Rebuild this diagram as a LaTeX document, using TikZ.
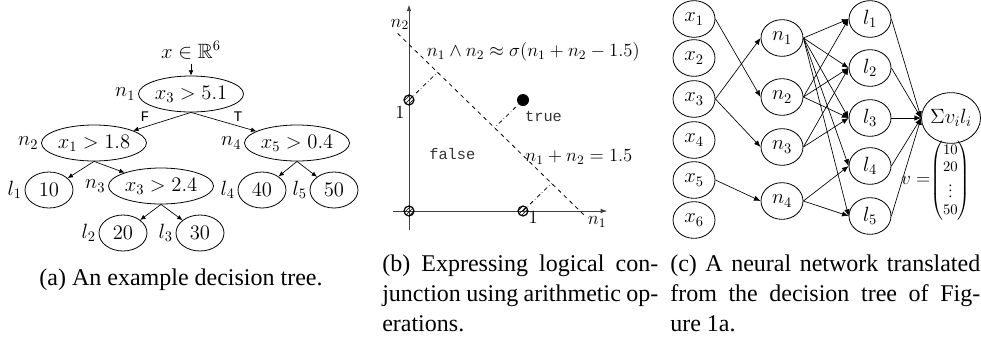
\RequirePackage{fix-cm}
\documentclass[tikz,border=0pt]{standalone}
\usepackage{amsmath,amssymb}
\usepackage{fontspec}
\setmainfont{Liberation Serif}
\setmonofont{Liberation Mono}
\usetikzlibrary{shapes.geometric,arrows.meta,patterns}

\tikzset{
  mathfont/.style={font=\fontsize{15.5}{18}\selectfont},
  sidelab/.style={inner sep=2pt,mathfont},
  treenode/.style={ellipse,draw,line width=0.6pt,inner sep=0pt,minimum height=27pt,mathfont},
  testnode/.style={treenode,minimum width=78.75pt},
  leafnode/.style={treenode,minimum width=36pt},
  treearrow/.style={-{Latex[length=4pt,width=3.5pt]},line width=0.5pt},
  edgelab/.style={font=\fontsize{11}{12}\selectfont\ttfamily},
  axisline/.style={-{Latex[length=5pt,width=3.5pt]},line width=0.7pt,black!75},
  hatchdot/.style={draw,line width=0.9pt,pattern=north east lines},
  bmath/.style={font=\fontsize{14}{16}\selectfont},
  bmono/.style={font=\fontsize{11.5}{13}\selectfont\ttfamily,text=black!80},
  netnode/.style={ellipse,draw,line width=0.6pt,inner sep=0pt,minimum width=31.5pt,minimum height=27.5pt,mathfont},
  netarrow/.style={-{Latex[length=5pt,width=4pt]},line width=0.5pt},
  captext/.style={font=\fontsize{18}{22.5}\selectfont,inner sep=0pt},
}

\begin{document}
\begin{tikzpicture}[x=0.75pt,y=-0.75pt]
\path[use as bounding box] (0,0) rectangle (981,337);

% (a) decision tree
\node[mathfont] (tin) at (191,50) {$x\in\mathbb{R}^6$};
\node[testnode,label={[sidelab]left:$n_1$}] (tn1) at (191,94) {$x_3>5.1$};
\node[testnode,label={[sidelab]left:$n_2$}] (tn2) at (94,143) {$x_1>1.8$};
\node[testnode,label={[sidelab]left:$n_4$}] (tn4) at (297,143) {$x_5>0.4$};
\node[leafnode,label={[sidelab]left:$l_1$}] (tl1) at (49,190) {$10$};
\node[testnode,label={[sidelab]left:$n_3$}] (tn3) at (161,186) {$x_3>2.4$};
\node[leafnode,label={[sidelab]left:$l_4$}] (tl4) at (262,190) {$40$};
\node[leafnode,label={[sidelab]left:$l_5$}] (tl5) at (334,190) {$50$};
\node[leafnode,label={[sidelab]left:$l_2$}] (tl2) at (123,233) {$20$};
\node[leafnode,label={[sidelab]left:$l_3$}] (tl3) at (200,233) {$30$};
\draw[treearrow] (tin) -- (tn1);
\draw[treearrow] (tn1.south) -- (tn2);
\draw[treearrow] (tn1.south) -- (tn4);
\node[edgelab] (tF) at (145,117) {F};
\node[edgelab] (tT) at (238,117) {T};
\draw[treearrow] (tn2.south) -- (tl1);
\draw[treearrow] (tn2.south) -- (tn3);
\draw[treearrow] (tn3.south) -- (tl2);
\draw[treearrow] (tn3.south) -- (tl3);
\draw[treearrow] (tn4.south) -- (tl4);
\draw[treearrow] (tn4.south) -- (tl5);

% (b) conjunction
\begin{scope}[shift={(409,211)},x=85.5pt,y=83.25pt]
\draw[axisline] (-0.14,0) -- (1.74,0);
\draw[axisline] (0,-0.17) -- (0,1.86);
\draw[dashed,line width=0.6pt] (-0.1,1.6) -- (1.55,-0.05);
\coordinate (p00) at (0,0);
\coordinate (p01) at (0,1);
\coordinate (p10) at (1,0);
\coordinate (p11) at (1,1);
\coordinate (f01) at (0.25,1.25);
\coordinate (f11) at (0.75,0.75);
\coordinate (f10) at (1.25,0.25);
\draw[dash dot,line width=0.6pt] (p01) -- (f01);
\draw[dash dot,line width=0.6pt] (p11) -- (f11);
\draw[dash dot,line width=0.6pt] (p10) -- (f10);
\fill (p11) circle[radius=4.5pt];
\foreach \p in {p00,p01,p10}
  \draw[hatchdot] (\p) circle[radius=3.75pt];
\node[bmath] (bn2) at (-0.08,1.68) {$n_2$};
\node[bmath] (bn1) at (1.65,-0.1) {$n_1$};
\node[bmath] (bone2) at (-0.08,0.89) {$1$};
\node[bmath] (bone1) at (1.09,-0.06) {$1$};
\node[bmath] (bform) at (1.09,1.43) {$n_1\wedge n_2\approx\sigma(n_1+n_2-1.5)$};
\node[bmono] (btrue) at (1.18,0.85) {true};
\node[bmono] (bfalse) at (0.38,0.51) {false};
\node[bmath] (bline) at (1.49,0.49) {$n_1+n_2=1.5$};
\end{scope}

% (c) network
\foreach \i/\y in {1/19,2/58,3/99,4/140,5/180,6/220}
  \node[netnode] (cx\i) at (694,\y) {$x_{\i}$};
\foreach \i/\y in {1/38,2/97,3/147,4/201}
  \node[netnode] (cn\i) at (782,\y) {$n_{\i}$};
\foreach \i/\y in {1/19,2/68,3/118,4/166,5/216}
  \node[netnode] (cl\i) at (870,\y) {$l_{\i}$};
\node[netnode,minimum width=42.75pt,minimum height=38pt] (csum) at (951,118) {$\Sigma v_i l_i$};
\node[font=\fontsize{11}{13}\selectfont,inner sep=1pt] (cvec) at (936,181)
  {{\fontsize{14}{16}\selectfont$v=$}$\begin{pmatrix}10\\20\\\vdots\\50\end{pmatrix}$};
\foreach \a/\b in {x1/n2,x3/n1,x3/n3,x5/n4}
  \draw[netarrow] (c\a.east) -- (c\b.west);
\foreach \a/\b in {n1/l1,n1/l2,n1/l3,n1/l4,n1/l5,n2/l1,n2/l2,n2/l3,n3/l2,n3/l3,n4/l4,n4/l5}
  \draw[netarrow] (c\a.east) -- (c\b.west);
\foreach \i in {1,...,5}
  \draw[netarrow] (cl\i.east) -- (csum.west);

% captions
\node[captext] (capa) at (181,280) {(a) An example decision tree.};
\node[captext,anchor=north west,text width=207pt,align=justify] (capb) at (382,255)
  {(b) Expressing logical con-\linebreak junction using arithmetic op-\linebreak erations.};
\node[captext,anchor=north west,text width=232.5pt,align=justify] (capc) at (670,255)
  {(c) A neural network translated\linebreak from the decision tree of Fig-\linebreak ure 1a.};
\end{tikzpicture}
\end{document}
